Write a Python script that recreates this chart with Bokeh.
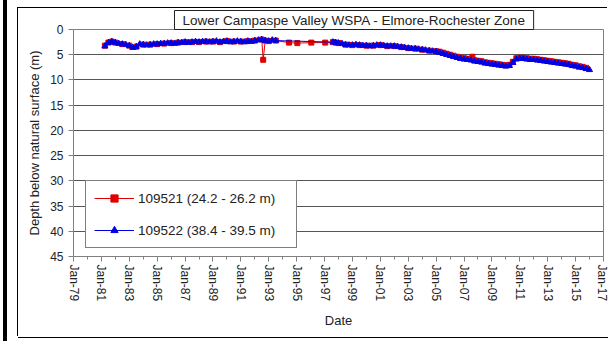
from bokeh.plotting import figure
from bokeh.models import Range1d, FixedTicker, Legend, LegendItem
from bokeh.embed import file_html
from bokeh.resources import INLINE

title_text = "Lower Campaspe Valley WSPA - Elmore-Rochester Zone"
x_label = "Date"
y_label = "Depth below natural surface (m)"
series_names = ["109521 (24.2 - 26.2 m)", "109522 (38.4 - 39.5 m)"]

tick_years = [1979, 1981, 1983, 1985, 1987, 1989, 1991, 1993, 1995, 1997, 1999,
              2001, 2003, 2005, 2007, 2009, 2011, 2013, 2015, 2017]
tick_labels = ["Jan-79", "Jan-81", "Jan-83", "Jan-85", "Jan-87", "Jan-89", "Jan-91",
               "Jan-93", "Jan-95", "Jan-97", "Jan-99", "Jan-01", "Jan-03", "Jan-05",
               "Jan-07", "Jan-09", "Jan-11", "Jan-13", "Jan-15", "Jan-17"]
minor_years = [1980, 1982, 1984, 1986, 1988, 1990, 1992, 1994, 1996, 1998, 2000,
               2002, 2004, 2006, 2008, 2010, 2012, 2014, 2016]
y_ticks = [0, 5, 10, 15, 20, 25, 30, 35, 40, 45]

# 109522 (blue)
blue_dates = [1981.25, 1981.5, 1981.75,
              1982.0, 1982.25, 1982.5, 1982.75,
              1983.0, 1983.25, 1983.5, 1983.75,
              1984.0, 1984.25, 1984.5, 1984.75,
              1985.0, 1985.25, 1985.5, 1985.75,
              1986.0, 1986.25, 1986.5, 1986.75,
              1987.0, 1987.25, 1987.5, 1987.75,
              1988.0, 1988.25, 1988.5, 1988.75,
              1989.0, 1989.25, 1989.5, 1989.75,
              1990.0, 1990.25, 1990.5, 1990.75,
              1991.0, 1991.25, 1991.5, 1991.75,
              1992.0, 1992.25, 1992.5, 1992.75,
              1993.0, 1993.25, 1993.5,
              1997.6, 1997.8,
              1998.0, 1998.25, 1998.5, 1998.75,
              1999.0, 1999.25, 1999.5, 1999.75,
              2000.0, 2000.25, 2000.5, 2000.75,
              2001.0, 2001.25, 2001.5, 2001.75,
              2002.0, 2002.25, 2002.5, 2002.75,
              2003.0, 2003.25, 2003.5, 2003.75,
              2004.0, 2004.25, 2004.5, 2004.75,
              2005.0, 2005.25, 2005.5, 2005.75,
              2006.0, 2006.25, 2006.5, 2006.75,
              2007.0, 2007.25, 2007.5, 2007.75,
              2008.0, 2008.25, 2008.5, 2008.75,
              2009.0, 2009.25, 2009.5, 2009.75,
              2010.0, 2010.25, 2010.5, 2010.75,
              2011.0, 2011.25, 2011.5, 2011.75,
              2012.0, 2012.25, 2012.5, 2012.75,
              2013.0, 2013.25, 2013.5, 2013.75,
              2014.0, 2014.25, 2014.5, 2014.75,
              2015.0, 2015.25, 2015.5, 2015.75,
              2016.0]
blue_depth = [3.3, 2.6, 2.4,
              2.6, 2.8, 2.9, 3.0,
              3.2, 3.6, 3.4, 2.9,
              3.0, 3.1, 3.0, 2.9,
              2.9, 2.8, 2.8, 2.7,
              2.7, 2.8, 2.6, 2.6,
              2.5, 2.6, 2.5, 2.4,
              2.5, 2.4, 2.4, 2.5,
              2.4, 2.3, 2.5, 2.4,
              2.3, 2.5, 2.4, 2.3,
              2.4, 2.5, 2.3, 2.4,
              2.2, 2.1, 2.0, 2.2,
              2.3, 2.1, 2.2,
              2.5, 2.6,
              2.7, 2.8, 3.0, 3.1,
              3.1, 3.0, 3.1, 3.2,
              3.2, 3.3, 3.2, 3.1,
              3.1, 3.2, 3.3, 3.3,
              3.3, 3.4, 3.5, 3.6,
              3.7, 3.8, 3.8, 3.9,
              4.0, 4.1, 4.2, 4.3,
              4.4, 4.6, 4.8, 5.0,
              5.2, 5.4, 5.6, 5.8,
              5.9, 6.0, 6.1, 6.3,
              6.4, 6.5, 6.7, 6.8,
              6.9, 7.0, 7.1, 7.2,
              7.3, 7.2, 6.6, 5.9,
              5.8, 5.8, 5.9, 6.0,
              6.0, 6.1, 6.2, 6.3,
              6.4, 6.5, 6.6, 6.7,
              6.8, 6.9, 7.0, 7.2,
              7.3, 7.5, 7.6, 7.8,
              8.0]

# 109521 (red)
red_dates = [1981.25, 1981.5, 1981.75,
             1982.0, 1982.5,
             1983.0, 1983.5,
             1984.0, 1984.5,
             1985.0, 1985.5,
             1986.0, 1986.5,
             1987.0, 1987.5,
             1988.0, 1988.5,
             1989.0, 1989.5,
             1990.0, 1990.5,
             1991.0, 1991.5,
             1992.0, 1992.5, 1992.6, 1992.75,
             1993.0, 1993.5,
             1994.45, 1995.05, 1996.05, 1997.05,
             1997.6, 1997.8,
             1998.0, 1998.5,
             1999.0, 1999.5,
             2000.0, 2000.5,
             2001.0, 2001.5,
             2002.0, 2002.5,
             2003.0, 2003.5,
             2004.0, 2004.5,
             2005.0, 2005.25, 2005.5, 2005.75,
             2006.0, 2006.25, 2006.5, 2006.75,
             2007.0, 2007.25, 2007.6, 2007.75,
             2008.0, 2008.25, 2008.5, 2008.75,
             2009.0, 2009.25, 2009.5, 2009.75,
             2010.0, 2010.25, 2010.5, 2010.75,
             2011.0, 2011.25, 2011.5, 2011.75,
             2012.0, 2012.25, 2012.5, 2012.75,
             2013.0, 2013.25, 2013.5, 2013.75,
             2014.0, 2014.25, 2014.5, 2014.75,
             2015.0, 2015.25, 2015.5, 2015.75]
red_depth = [3.2, 2.6, 2.4,
             2.6, 2.9,
             3.2, 3.4,
             3.0, 3.0,
             2.9, 2.8,
             2.7, 2.6,
             2.5, 2.5,
             2.5, 2.4,
             2.4, 2.5,
             2.3, 2.4,
             2.4, 2.3,
             2.2, 2.0, 6.0, 2.2,
             2.3, 2.2,
             2.6, 2.7, 2.6, 2.6,
             2.5, 2.6,
             2.7, 3.0,
             3.1, 3.1,
             3.2, 3.2,
             3.1, 3.3,
             3.3, 3.5,
             3.7, 3.8,
             4.0, 4.2,
             4.3, 4.4, 4.6, 4.8,
             5.0, 5.2, 5.4, 5.6,
             5.7, 5.8, 5.4, 6.1,
             6.2, 6.3, 6.5, 6.6,
             6.7, 6.8, 6.9, 7.0,
             7.1, 7.0, 6.4, 5.7,
             5.6, 5.6, 5.7, 5.8,
             5.8, 5.9, 6.0, 6.1,
             6.2, 6.3, 6.4, 6.5,
             6.6, 6.7, 6.8, 7.0,
             7.1, 7.3, 7.4, 7.6]

FONT = "Liberation Sans"
RED = "#e00000"
BLUE = "#0000e6"
TXT = "#222222"

p = figure(width=590, height=329, output_backend="svg", toolbar_location=None,
           x_range=Range1d(1979, 2017), y_range=Range1d(45, 0),
           min_border_left=55, min_border_right=5, min_border_top=21, min_border_bottom=81)
p.background_fill_color = "white"
p.border_fill_color = "white"
p.outline_line_color = "#808080"
p.margin = (8, 0, 0, 18)
# outer chart-area frame (thin) and page edge bar (thick), drawn as shadows
p.styles = {"box-shadow": ("-1px -1px 0 0 black, 0 1px 0 0 black, "
                           "-3px 0 0 8px white, -7px 0 0 8px black"),
            "overflow": "hidden"}

# title (boxed)
p.title.text = title_text
p.title.align = "left"
p.title.offset = 101
p.title.standoff = 0
p.title.text_font = FONT
p.title.text_font_size = "13.5px"
p.title.text_font_style = "normal"
p.title.text_color = TXT
p.title.border_line_color = TXT
p.title.border_line_width = 1
p.title.background_fill_color = "white"
p.title.padding = dict(left=8, right=8, top=2, bottom=2)

# axes
p.xaxis.ticker = FixedTicker(ticks=tick_years, minor_ticks=minor_years)
p.xaxis.major_label_overrides = {y: l for y, l in zip(tick_years, tick_labels)}
p.xaxis.major_label_orientation = "vertical"
p.yaxis.ticker = FixedTicker(ticks=y_ticks)
for ax in (p.xaxis[0], p.yaxis[0]):
    ax.axis_line_color = "#808080"
    ax.major_tick_line_color = "#808080"
    ax.minor_tick_line_color = "#808080"
    ax.major_tick_out = 5
    ax.major_tick_in = 0
    ax.minor_tick_out = 3
    ax.minor_tick_in = 0
    ax.major_label_text_font = FONT
    ax.major_label_text_font_size = "12px"
    ax.major_label_text_color = TXT
    ax.axis_label_text_font = FONT
    ax.axis_label_text_font_size = "13px"
    ax.axis_label_text_font_style = "normal"
    ax.axis_label_text_color = TXT
p.yaxis.minor_tick_line_color = None
p.xaxis.axis_label = x_label
p.yaxis.axis_label = y_label
p.xaxis.major_label_standoff = 3
p.yaxis.major_label_standoff = 5
p.xaxis.axis_label_standoff = 9
p.yaxis.axis_label_standoff = 5

p.xgrid.visible = False
p.ygrid.ticker = FixedTicker(ticks=y_ticks)
p.ygrid.grid_line_color = "#555555"
p.ygrid.grid_line_width = 1

# series
r_line = p.line(red_dates, red_depth, line_color=RED, line_width=1)
r_pts = p.scatter(red_dates, red_depth, marker="square", size=5,
                  fill_color=RED, line_color=RED)
b_line = p.line(blue_dates, blue_depth, line_color=BLUE, line_width=1)
b_pts = p.scatter(blue_dates, blue_depth, marker="triangle", size=6,
                  fill_color=BLUE, line_color=BLUE)

legend = Legend(items=[LegendItem(label=series_names[0], renderers=[r_line, r_pts]),
                       LegendItem(label=series_names[1], renderers=[b_line, b_pts])],
                location=(12, 8))
legend.border_line_color = "black"
legend.border_line_width = 1
legend.background_fill_color = "white"
legend.background_fill_alpha = 1
legend.label_text_font = FONT
legend.label_text_font_size = "13.5px"
legend.label_text_color = TXT
legend.glyph_width = 40
legend.glyph_height = 18
legend.label_height = 18
legend.label_width = 150
legend.label_standoff = 4
legend.spacing = 14
legend.padding = 8
legend.margin = 0
p.add_layout(legend)

open("out.html", "w").write(file_html(p, INLINE))
